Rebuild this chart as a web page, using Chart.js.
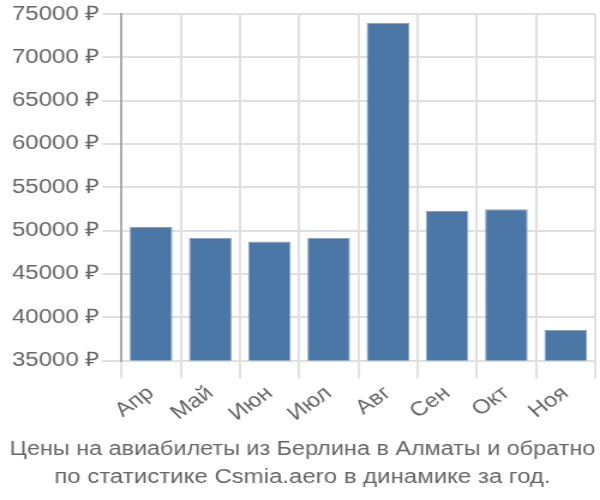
<!DOCTYPE html>
<html>
<head>
<meta charset="utf-8">
<script src="https://cdn.jsdelivr.net/npm/chart.js@4"></script>
<style>
  html, body { margin: 0; padding: 0; background: #fff; }
  #priceChart { display: block; width: 600px; height: 500px; }
</style>
</head>
<body>
<canvas id="priceChart" width="500" height="500" style="width:600px;height:500px"></canvas>
<script>
// months and average prices (rub)
const months = ['Апр', 'Май', 'Июн', 'Июл', 'Авг', 'Сен', 'Окт', 'Ноя'];
const prices = [50400, 49150, 48750, 49150, 74000, 52250, 52450, 38550];
const yTicks = [35000, 40000, 45000, 50000, 55000, 60000, 65000, 70000, 75000];

// the reference is drawn 500 wide and stretched to 600
const ctx = document.getElementById('priceChart').getContext('2d');
const priceChart = new Chart(ctx, {
  type: 'bar',
  data: {
    labels: months,
    datasets: [{
      label: 'Цена',
      data: prices,
      backgroundColor: '#4b77a6',
      borderColor: '#86a3c4',
      borderWidth: 1
    }]
  },
  options: {
    responsive: false,
    devicePixelRatio: 1,
    animation: false,
    layout: { padding: { left: 8, right: 4, top: 4, bottom: 9 } },
    plugins: {
      legend: { display: false },
      tooltip: { enabled: false },
      title: {
        display: true,
        position: 'bottom',
        text: ['Цены на авиабилеты из Берлина в Алматы и обратно', 'по статистике Csmia.aero в динамике за год.'],
        color: '#666',
        font: { family: 'Liberation Sans', size: 20, weight: 'normal', lineHeight: 1.4 },
        padding: { top: 6, bottom: 0 }
      }
    },
    scales: {
      x: {
        grid: { color: '#e0e0e0', tickLength: 18, lineWidth: 2 },
        border: { color: '#e0e0e0' },
        ticks: {
          color: '#666',
          font: { family: 'Liberation Sans', size: 20 },
          maxRotation: 40,
          minRotation: 40
        }
      },
      y: {
        min: 35000,
        max: 75000,
        afterBuildTicks: axis => { axis.ticks = yTicks.map(v => ({ value: v })); },
        grid: { color: '#e0e0e0', tickLength: 16, lineWidth: 2 },
        border: { color: '#aaa', width: 2 },
        ticks: {
          color: '#666',
          font: { family: 'Liberation Sans', size: 20 },
          padding: 2,
          callback: v => v + ' ₽'
        }
      }
    }
  }
});
</script>
</body>
</html>
